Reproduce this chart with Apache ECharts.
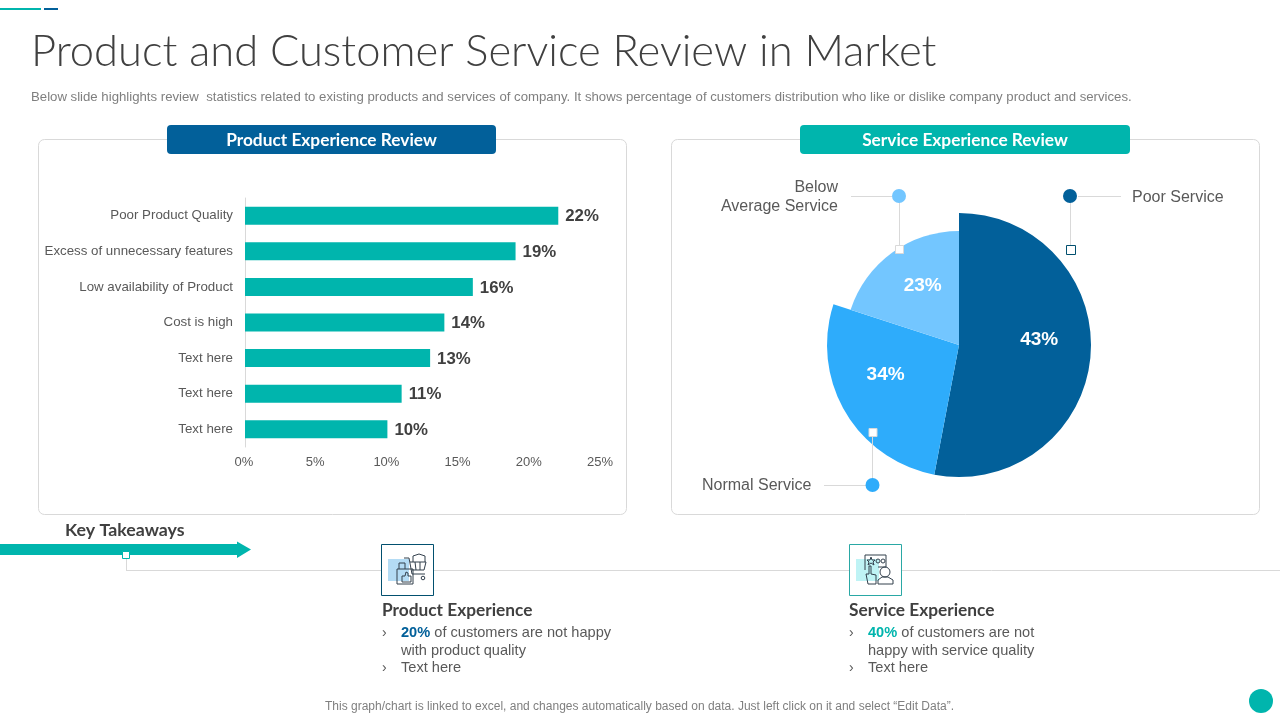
<!DOCTYPE html>
<html>
<head>
<meta charset="utf-8">
<title>Product and Customer Service Review in Market</title>
<script src="https://cdn.jsdelivr.net/npm/echarts@6/dist/echarts.min.js"></script>
<style>
html,body{margin:0;padding:0;background:#fff}
#chart{width:1280px;height:720px}
</style>
</head>
<body>
<div id="chart"></div>
<script>
// bar chart
var productCategories = ['Poor Product Quality','Excess of unnecessary features','Low availability of Product','Cost is high','Text here','Text here','Text here'];
var productValues = [22,19,16,14,13,11,10];
var axisTicks = [0,5,10,15,20,25];
// pie: printed labels do not match the drawn angles, so both are kept
var serviceNames = ['Poor Service','Normal Service','Below Average Service'];
var serviceLabels = [43,34,23];
var serviceSweep = [53,27,20];

var TEAL = '#00b5ad', NAVY = '#02609a', SKY = '#2eacfb', PALE = '#73c6ff';
var GREY = '#d9d9d9', TEXT = '#595959', DARK = '#404040', ICON = '#33404d';
var SANS = '"Liberation Sans", Arial, sans-serif', HEAD = 'Lato, "Open Sans", sans-serif';

var chart = echarts.init(document.getElementById('chart'));

// one pie per slice, because the pale slice has a smaller radius
var sliceColors = [NAVY, SKY, PALE];
var sliceRadius = [132, 132, 114];
var labelShift = [[11.5,-12],[-14,-5],[-1,-11]];
var hidden = {itemStyle:{color:'transparent'}, label:{show:false}};
var pies = serviceNames.map(function(name, i){
	var before = 0, after = 0;
	serviceSweep.forEach(function(v, j){ if(j<i) before += v; if(j>i) after += v; });
	return {
		type:'pie', name:name, center:[959,345], radius:[0,sliceRadius[i]],
		startAngle:90, clockwise:true, silent:true, animation:false,
		avoidLabelOverlap:false, labelLine:{show:false},
		data:[
			Object.assign({value:before, name:'b'}, hidden),
			{value:serviceSweep[i], name:name, itemStyle:{color:sliceColors[i]},
				label:{show:true, position:'inside', offset:labelShift[i], formatter:serviceLabels[i]+'%',
					color:'#fff', fontFamily:SANS, fontWeight:'bold', fontSize:19}},
			Object.assign({value:after, name:'a'}, hidden)
		]
	};
});

function txt(x, y, text, size, color, extra){
	return {type:'text', x:x, y:y, style:Object.assign({text:text, fontSize:size, fill:color, fontFamily:SANS, verticalAlign:'middle'}, extra||{})};
}
function line(x1, y1, x2, y2, color){
	return {type:'line', shape:{x1:x1,y1:y1,x2:x2,y2:y2}, style:{stroke:color||GREY, lineWidth:1}};
}
function box(x, y, w, h, r, fill, stroke, lw){
	return {type:'rect', shape:{x:x,y:y,width:w,height:h,r:r}, style:{fill:fill, stroke:stroke||null, lineWidth:lw||1}};
}
function dot(x, y, r, color){
	return {type:'circle', shape:{cx:x,cy:y,r:r}, style:{fill:color}};
}
function ink(points){
	return {type:'polyline', shape:{points:points}, style:{fill:null, stroke:ICON, lineWidth:1}};
}
function ring(x, y, r){
	return {type:'circle', shape:{cx:x,cy:y,r:r}, style:{fill:null, stroke:ICON, lineWidth:1}};
}

var graphics = [
	// top accent
	box(0,8,41,2,0,TEAL), box(44,8,14,2,0,NAVY),
	txt(31,52,'Product and Customer Service Review in Market',43.5,DARK,{fontFamily:HEAD,fontWeight:300}),
	txt(31,97.5,'Below slide highlights review  statistics related to existing products and services of company. It shows percentage of customers distribution who like or dislike company product and services.',13.2,'#7f7f7f'),
	// cards
	box(38.5,139.5,588,375,6,'#fff',GREY), box(671.5,139.5,588,375,6,'#fff',GREY),
	box(167,125,329,29,4,NAVY), box(800,125,330,29,4,TEAL),
	txt(331.5,140,'Product Experience Review',17.3,'#fff',{fontFamily:HEAD,fontWeight:'bold',align:'center'}),
	txt(965,140,'Service Experience Review',17.3,'#fff',{fontFamily:HEAD,fontWeight:'bold',align:'center'}),
	// takeaways
	line(126.5,558,126.5,570.5), line(126,570.5,1280,570.5),
	{type:'polygon', shape:{points:[[0,544],[237,544],[237,541.5],[251,549.5],[237,558],[237,555],[0,555]]}, style:{fill:TEAL}},
	box(122.5,551.5,7,7,0,'#fff',TEAL),
	txt(65,530.5,'Key Takeaways',17.8,DARK,{fontFamily:HEAD,fontWeight:'bold'}),
	box(381.5,544.5,52,51,0,'#fff','#02506f'), box(849.5,544.5,52,51,0,'#fff','#2aa8a5'),
	box(388,559,21,22,0,'#b4dcf5'), box(856,559,23,22,0,'#bff3f5'),
	// product icon
	ink([[397,569],[413,569],[413,584],[397,584],[397,569]]),
	ink([[399,569],[399,563],[405,563],[405,569]]),
	ink([[402,582],[402,576],[405,576],[406,572],[408,573],[408,576],[411,576],[411,582],[402,582]]),
	ink([[404,558],[409,558],[412,574],[425,574]]),
	ink([[410,562],[426,562],[424,570],[412,570]]),
	ink([[415,562],[416,570]]), ink([[420,562],[420,570]]),
	ink([[413,562],[413,556],[419,554],[425,556],[425,562]]),
	ring(423,578,1.8),
	// service icon
	ink([[865,570],[865,555],[886,555],[886,567],[878,567]]),
	ink([[871,557],[872,560],[875,560],[873,562],[874,565],[871,563],[868,565],[869,562],[867,560],[870,560],[871,557]]),
	ring(878,561,2), ring(883,561,2),
	ink([[869,566],[869,574],[866,574],[868,584],[876,584],[876,575],[871,574],[871,566],[869,566]]),
	ring(885,572,5),
	ink([[878,584],[878,580],[882,577],[888,577],[893,580],[893,584],[878,584]]),
	// left takeaway
	txt(382,610.5,'Product Experience',17.3,DARK,{fontFamily:HEAD,fontWeight:'bold'}),
	txt(382,633,'›',14,TEXT), txt(382,668,'›',14,TEXT),
	{type:'text', x:401, y:633, style:{text:'{b|20%} of customers are not happy', fontSize:14.6, fill:TEXT, fontFamily:SANS, verticalAlign:'middle',
		rich:{b:{fontWeight:'bold',fontSize:14.6,fill:NAVY,fontFamily:SANS}}}},
	txt(401,651,'with product quality',14.6,TEXT), txt(401,668,'Text here',14.6,TEXT),
	// right takeaway
	txt(849,610.5,'Service Experience',17.3,DARK,{fontFamily:HEAD,fontWeight:'bold'}),
	txt(849,633,'›',14,TEXT), txt(849,668,'›',14,TEXT),
	{type:'text', x:868, y:633, style:{text:'{b|40%} of customers are not', fontSize:14.6, fill:TEXT, fontFamily:SANS, verticalAlign:'middle',
		rich:{b:{fontWeight:'bold',fontSize:14.6,fill:TEAL,fontFamily:SANS}}}},
	txt(868,651,'happy with service quality',14.6,TEXT), txt(868,668,'Text here',14.6,TEXT),
	txt(639.5,707,'This graph/chart is linked to excel, and changes automatically based on data. Just left click on it and select “Edit Data”.',12,'#7f7f7f',{align:'center'}),
	dot(1261,701,12,TEAL)
];

// pie callouts sit above the series
var callouts = [
	line(851,196.5,892,196.5), line(899.5,196,899.5,246),
	dot(899,196,7,PALE), box(895.5,245.5,8,8,0,'#fff',GREY),
	txt(838,188,'Below',16,TEXT,{align:'right'}), txt(838,207,'Average Service',16,TEXT,{align:'right'}),
	line(1078,196.5,1121,196.5), line(1070.5,196,1070.5,246),
	dot(1070,196,7,NAVY), box(1066.5,245.5,9,9,0,'#fff','#02506f'),
	txt(1132,198,'Poor Service',16,TEXT),
	line(872.5,436,872.5,480), line(824,485.5,866,485.5),
	dot(872.5,485,7,SKY), box(869,428.5,8,8,0,'#fff',GREY),
	txt(702,486,'Normal Service',16,TEXT)
].map(function(g){ g.z = 20; return g; });

var option = {
	animation:false,
	backgroundColor:'#fff',
	graphic:{elements:graphics.concat(callouts)},
	grid:{left:245, top:198, width:356, height:249, containLabel:false},
	xAxis:{type:'value', min:axisTicks[0], max:axisTicks[axisTicks.length-1], interval:5,
		axisLine:{show:false}, axisTick:{show:false}, splitLine:{show:false},
		axisLabel:{formatter:'{value}%', color:TEXT, fontSize:13, fontFamily:SANS, margin:9, padding:[0,2,0,0]}},
	yAxis:{type:'category', inverse:true, data:productCategories,
		axisLine:{show:true, lineStyle:{color:GREY}}, axisTick:{show:false},
		axisLabel:{color:TEXT, fontSize:13.3, fontFamily:SANS, margin:12, padding:[1,0,0,0]}},
	series:[{type:'bar', data:productValues, barWidth:18, itemStyle:{color:TEAL}, z:5,
		label:{show:true, position:'right', distance:7, offset:[0,1], formatter:'{c}%', color:DARK, fontWeight:'bold', fontSize:16.8, fontFamily:SANS}}].concat(pies)
};
chart.setOption(option);
</script>
</body>
</html>
